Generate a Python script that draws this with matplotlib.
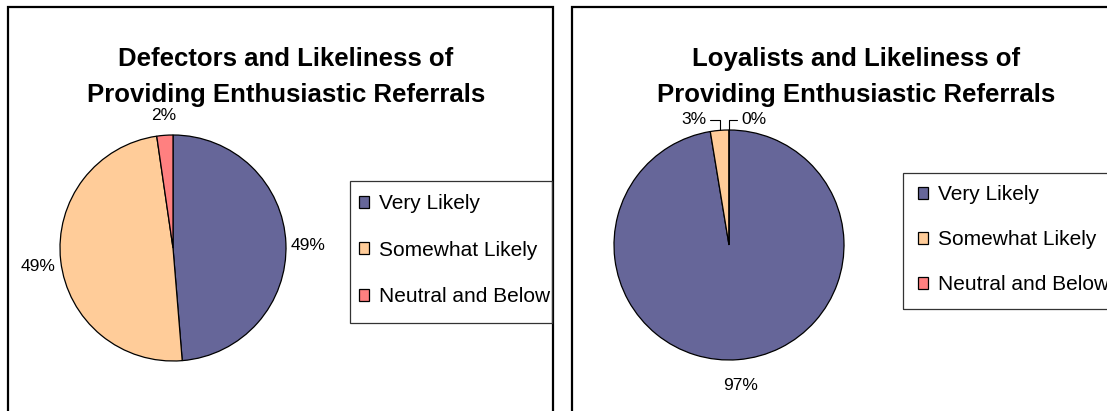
import matplotlib
matplotlib.use("Agg")
import matplotlib.pyplot as plt
from matplotlib.patches import Rectangle
import matplotlib.transforms as mtransforms
import numpy as np

plt.rcParams['font.family'] = ['Liberation Sans', 'DejaVu Sans']

categories = ["Very Likely", "Somewhat Likely", "Neutral and Below"]
defectors = [48.7, 49.0, 2.3]
loyalists = [97.4, 2.6, 0.0]
titles = ["Defectors and Likeliness of", "Providing Enthusiastic Referrals"]
titles_right = ["Loyalists and Likeliness of", "Providing Enthusiastic Referrals"]
colors = ["#666699", "#FFCC99", "#FF8080"]

W, H = 1107, 411
fig = plt.figure(figsize=(W / 100, H / 100), dpi=100)


def fx(x):
    return x / W


def fy(y):
    return 1 - y / H


def box(x0, y0, x1, y1, lw, ec):
    fig.patches.append(Rectangle((fx(x0), fy(y1)), fx(x1) - fx(x0), fy(y0) - fy(y1),
                                 transform=fig.transFigure, fill=False, lw=lw,
                                 edgecolor=ec, clip_on=False))


# panel borders
box(8, 7, 553, 430, 1.6, 'black')
box(572, 7, 1130, 430, 1.6, 'black')


def make_pie(cx, cy, r, values, title_lines, tcx, small_label_pos, legend_frame,
             first_row, lspacing):
    ax = fig.add_axes([fx(cx - r), fy(cy + r), 2 * r / W, 2 * r / H])
    ax.axis('off')

    def fmt(p):
        return ('%1.0f%%' % p) if p >= 5 or len(small_label_pos) == 0 else ''

    wedges, texts, autotexts = ax.pie(
        values, colors=colors, startangle=90, counterclock=False,
        autopct=fmt, pctdistance=1.2,
        wedgeprops=dict(edgecolor='black', linewidth=0.9),
        textprops=dict(fontsize=12.5, color='black'))
    ax.set_xlim(-1, 1)
    ax.set_ylim(-1, 1)
    shift = mtransforms.ScaledTranslation(0, -3 / 100, fig.dpi_scale_trans)
    for t in autotexts:
        t.set_ha('center')
        t.set_va('center')
        t.set_transform(t.get_transform() + shift)

    # small slices with leader lines
    total = sum(values)
    start = 90.0
    for i, v in enumerate(values):
        sweep = v / total * 360
        mid = start - sweep / 2
        start -= sweep
        if i in small_label_pos:
            tx, ty, ha = small_label_pos[i]
            ang = np.deg2rad(mid)
            ax.annotate('%1.0f%%' % (v / total * 100),
                        xy=(np.cos(ang), np.sin(ang)), xytext=(tx, ty),
                        ha=ha, va='center', fontsize=12.5,
                        arrowprops=dict(arrowstyle='-', lw=0.8, color='black',
                                        shrinkA=1, shrinkB=0,
                                        connectionstyle='angle,angleA=0,angleB=90,rad=0'),
                        annotation_clip=False)

    fig.text(fx(tcx), fy(66), title_lines[0], ha='center', va='baseline',
             fontsize=18.5, fontweight='bold')
    fig.text(fx(tcx), fy(102), title_lines[1], ha='center', va='baseline',
             fontsize=18.5, fontweight='bold')

    box(*legend_frame, 0.9, '#333333')
    hx, hy = first_row
    leg = fig.legend(wedges, categories, loc='upper left',
                     bbox_to_anchor=(fx(hx), fy(hy)), bbox_transform=fig.transFigure,
                     borderaxespad=0, borderpad=0, fontsize=15, frameon=False,
                     handlelength=0.5, handleheight=0.5,
                     handletextpad=0.45, labelspacing=lspacing)
    for h in leg.legend_handles:
        h.set_linewidth(0.9)
    return ax


make_pie(173, 248, 113, defectors, titles, 286, {}, (350, 181, 552, 323), (359, 194), 1.33)
make_pie(729, 245, 115, loyalists, titles_right, 856,
         {1: (-0.2, 1.09, 'right'), 2: (0.11, 1.09, 'left')}, (903, 173, 1130, 309),
         (918, 185), 1.25)

fig.savefig('out.png', dpi=100)
